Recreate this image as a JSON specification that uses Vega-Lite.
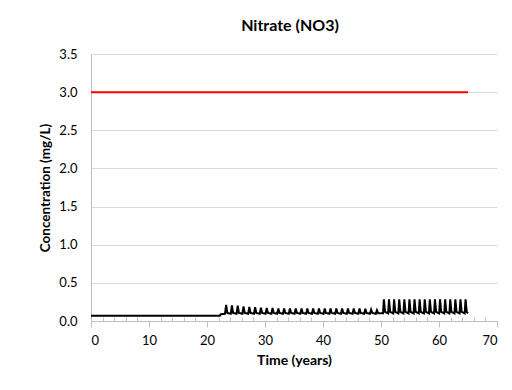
{
  "$schema": "https://vega.github.io/schema/vega-lite/v6.json",
  "width": 406,
  "height": 267,
  "autosize": {"type": "none"},
  "padding": {"left": 91, "top": 54, "right": 15, "bottom": 69},
  "background": "white",
  "title": {"text": "Nitrate (NO3)", "fontSize": 16, "font": "Lato", "fontWeight": "bold", "color": "#000000", "anchor": "middle", "offset": 14, "dx": -4},
  "data": {"values": [
    {"s":"Limit","t":0,"c":3.0},
    {"s":"Limit","t":65,"c":3.0},
    {"s":"Sim","t":0,"c":0.07},
    {"s":"Sim","t":22.2,"c":0.07},
    {"s":"Sim","t":22.4,"c":0.09},
    {"s":"Sim","t":23.1,"c":0.095},{"s":"Sim","t":23.3,"c":0.21},{"s":"Sim","t":23.5,"c":0.105},
    {"s":"Sim","t":24.1,"c":0.095},{"s":"Sim","t":24.3,"c":0.205},{"s":"Sim","t":24.5,"c":0.105},
    {"s":"Sim","t":25.1,"c":0.095},{"s":"Sim","t":25.3,"c":0.2},{"s":"Sim","t":25.5,"c":0.105},
    {"s":"Sim","t":26.1,"c":0.095},{"s":"Sim","t":26.3,"c":0.19},{"s":"Sim","t":26.5,"c":0.105},
    {"s":"Sim","t":27.1,"c":0.095},{"s":"Sim","t":27.3,"c":0.185},{"s":"Sim","t":27.5,"c":0.105},
    {"s":"Sim","t":28.1,"c":0.095},{"s":"Sim","t":28.3,"c":0.18},{"s":"Sim","t":28.5,"c":0.105},
    {"s":"Sim","t":29.1,"c":0.095},{"s":"Sim","t":29.3,"c":0.175},{"s":"Sim","t":29.5,"c":0.105},
    {"s":"Sim","t":30.1,"c":0.095},{"s":"Sim","t":30.3,"c":0.17},{"s":"Sim","t":30.5,"c":0.105},
    {"s":"Sim","t":31.1,"c":0.095},{"s":"Sim","t":31.3,"c":0.17},{"s":"Sim","t":31.5,"c":0.105},
    {"s":"Sim","t":32.1,"c":0.095},{"s":"Sim","t":32.3,"c":0.165},{"s":"Sim","t":32.5,"c":0.105},
    {"s":"Sim","t":33.1,"c":0.095},{"s":"Sim","t":33.3,"c":0.165},{"s":"Sim","t":33.5,"c":0.105},
    {"s":"Sim","t":34.1,"c":0.095},{"s":"Sim","t":34.3,"c":0.165},{"s":"Sim","t":34.5,"c":0.105},
    {"s":"Sim","t":35.1,"c":0.095},{"s":"Sim","t":35.3,"c":0.165},{"s":"Sim","t":35.5,"c":0.105},
    {"s":"Sim","t":36.1,"c":0.095},{"s":"Sim","t":36.3,"c":0.165},{"s":"Sim","t":36.5,"c":0.105},
    {"s":"Sim","t":37.1,"c":0.095},{"s":"Sim","t":37.3,"c":0.165},{"s":"Sim","t":37.5,"c":0.105},
    {"s":"Sim","t":38.1,"c":0.095},{"s":"Sim","t":38.3,"c":0.165},{"s":"Sim","t":38.5,"c":0.105},
    {"s":"Sim","t":39.1,"c":0.095},{"s":"Sim","t":39.3,"c":0.165},{"s":"Sim","t":39.5,"c":0.105},
    {"s":"Sim","t":40.1,"c":0.095},{"s":"Sim","t":40.3,"c":0.165},{"s":"Sim","t":40.5,"c":0.105},
    {"s":"Sim","t":41.1,"c":0.095},{"s":"Sim","t":41.3,"c":0.165},{"s":"Sim","t":41.5,"c":0.105},
    {"s":"Sim","t":42.1,"c":0.095},{"s":"Sim","t":42.3,"c":0.165},{"s":"Sim","t":42.5,"c":0.105},
    {"s":"Sim","t":43.1,"c":0.095},{"s":"Sim","t":43.3,"c":0.165},{"s":"Sim","t":43.5,"c":0.105},
    {"s":"Sim","t":44.1,"c":0.095},{"s":"Sim","t":44.3,"c":0.165},{"s":"Sim","t":44.5,"c":0.105},
    {"s":"Sim","t":45.1,"c":0.095},{"s":"Sim","t":45.3,"c":0.165},{"s":"Sim","t":45.5,"c":0.105},
    {"s":"Sim","t":46.1,"c":0.095},{"s":"Sim","t":46.3,"c":0.165},{"s":"Sim","t":46.5,"c":0.105},
    {"s":"Sim","t":47.1,"c":0.095},{"s":"Sim","t":47.3,"c":0.16},{"s":"Sim","t":47.5,"c":0.105},
    {"s":"Sim","t":48.1,"c":0.095},{"s":"Sim","t":48.3,"c":0.15},{"s":"Sim","t":48.5,"c":0.105},
    {"s":"Sim","t":49.1,"c":0.095},{"s":"Sim","t":49.3,"c":0.14},{"s":"Sim","t":49.5,"c":0.1},
    {"s":"Sim","t":50.0,"c":0.1},
    {"s":"Sim","t":50.35,"c":0.1},{"s":"Sim","t":50.5,"c":0.285},{"s":"Sim","t":50.7,"c":0.12},
    {"s":"Sim","t":51.23,"c":0.1},{"s":"Sim","t":51.38,"c":0.285},{"s":"Sim","t":51.58,"c":0.12},
    {"s":"Sim","t":52.11,"c":0.1},{"s":"Sim","t":52.26,"c":0.285},{"s":"Sim","t":52.46,"c":0.12},
    {"s":"Sim","t":52.99,"c":0.1},{"s":"Sim","t":53.14,"c":0.285},{"s":"Sim","t":53.34,"c":0.12},
    {"s":"Sim","t":53.87,"c":0.1},{"s":"Sim","t":54.02,"c":0.285},{"s":"Sim","t":54.22,"c":0.12},
    {"s":"Sim","t":54.75,"c":0.1},{"s":"Sim","t":54.9,"c":0.285},{"s":"Sim","t":55.1,"c":0.12},
    {"s":"Sim","t":55.63,"c":0.1},{"s":"Sim","t":55.78,"c":0.285},{"s":"Sim","t":55.98,"c":0.12},
    {"s":"Sim","t":56.51,"c":0.1},{"s":"Sim","t":56.66,"c":0.285},{"s":"Sim","t":56.86,"c":0.12},
    {"s":"Sim","t":57.39,"c":0.1},{"s":"Sim","t":57.54,"c":0.285},{"s":"Sim","t":57.74,"c":0.12},
    {"s":"Sim","t":58.27,"c":0.1},{"s":"Sim","t":58.42,"c":0.285},{"s":"Sim","t":58.62,"c":0.12},
    {"s":"Sim","t":59.15,"c":0.1},{"s":"Sim","t":59.3,"c":0.285},{"s":"Sim","t":59.5,"c":0.12},
    {"s":"Sim","t":60.03,"c":0.1},{"s":"Sim","t":60.18,"c":0.285},{"s":"Sim","t":60.38,"c":0.12},
    {"s":"Sim","t":60.91,"c":0.1},{"s":"Sim","t":61.06,"c":0.285},{"s":"Sim","t":61.26,"c":0.12},
    {"s":"Sim","t":61.79,"c":0.1},{"s":"Sim","t":61.94,"c":0.285},{"s":"Sim","t":62.14,"c":0.12},
    {"s":"Sim","t":62.67,"c":0.1},{"s":"Sim","t":62.82,"c":0.285},{"s":"Sim","t":63.02,"c":0.12},
    {"s":"Sim","t":63.55,"c":0.1},{"s":"Sim","t":63.7,"c":0.285},{"s":"Sim","t":63.9,"c":0.12},
    {"s":"Sim","t":64.43,"c":0.1},{"s":"Sim","t":64.58,"c":0.285},{"s":"Sim","t":64.78,"c":0.12},
    {"s":"Sim","t":65,"c":0.1}
  ]},
  "mark": {"type": "line", "strokeWidth": 2, "clip": true},
  "encoding": {
    "x": {
      "field": "t", "type": "quantitative",
      "scale": {"domain": [0, 70], "nice": false, "zero": true},
      "axis": {
        "title": "Time (years)",
        "values": [0,2,4,6,8,10,12,14,16,18,20,22,24,26,28,30,32,34,36,38,40,42,44,46,48,50,52,54,56,58,60,62,64,66,68,70],
        "labelExpr": "datum.value % 10 === 0 ? datum.label : ''",
        "tickSize": {"condition": {"test": "datum.value % 10 === 0", "value": 6}, "value": -4},
        "grid": false,
        "domainColor": "#bfbfbf",
        "tickColor": "#bfbfbf",
        "labelFont": "Lato", "labelFontSize": 13, "labelColor": "#000000", "labelPadding": 7,
        "titleFont": "Lato", "titleFontSize": 14, "titleFontWeight": "bold", "titleColor": "#000000", "titlePadding": 6
      }
    },
    "y": {
      "field": "c", "type": "quantitative",
      "scale": {"domain": [0, 3.5], "nice": false},
      "axis": {
        "title": "Concentration (mg/L)",
        "values": [0,0.5,1,1.5,2,2.5,3,3.5],
        "format": ".1f",
        "ticks": false,
        "grid": true, "gridColor": "#d9d9d9",
        "domainColor": "#bfbfbf",
        "labelFont": "Lato", "labelFontSize": 13, "labelColor": "#000000", "labelPadding": 14,
        "titleFont": "Lato", "titleFontSize": 13.5, "titleFontWeight": "bold", "titleColor": "#000000", "titlePadding": 6
      }
    },
    "color": {
      "field": "s", "type": "nominal",
      "scale": {"domain": ["Sim", "Limit"], "range": ["#000000", "#ff0000"]},
      "legend": null
    }
  },
  "config": {"view": {"stroke": null}}
}
